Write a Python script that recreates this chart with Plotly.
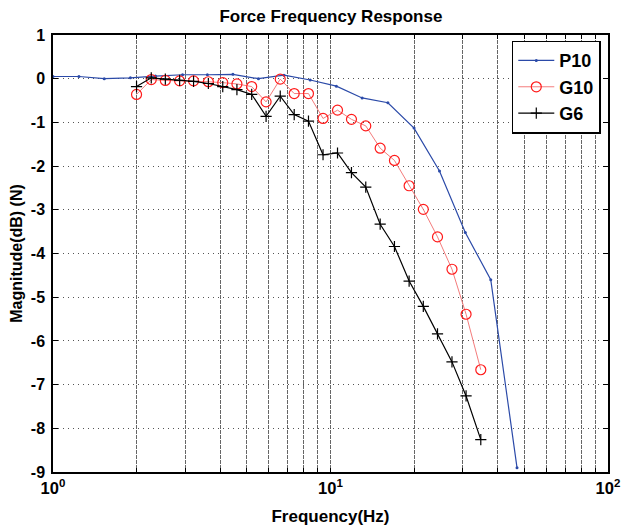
import plotly.graph_objects as go

# P10 response
p10_freq = [1.0, 1.24, 1.53, 1.9, 2.34, 2.93, 3.6, 4.45, 5.5, 6.8, 8.45, 10.5, 13.0, 16.1, 20.0, 24.7, 30.6, 37.8, 47.0]
p10_mag = [0.05, 0.05, 0.0, 0.02, 0.06, 0.09, 0.09, 0.1, 0.0, 0.08, -0.03, -0.17, -0.44, -0.55, -1.13, -2.11, -3.52, -4.6, -8.9]

# G10 response
g10_freq = [2.0, 2.26, 2.54, 2.86, 3.21, 3.63, 4.09, 4.6, 5.2, 5.86, 6.59, 7.4, 8.33, 9.4, 10.6, 11.9, 13.4, 15.1, 17.0, 19.2, 21.6, 24.3, 27.4, 30.8, 34.8]
g10_mag = [-0.36, -0.02, -0.04, -0.05, -0.05, -0.07, -0.09, -0.12, -0.18, -0.53, -0.01, -0.34, -0.34, -0.91, -0.72, -0.93, -1.08, -1.59, -1.87, -2.45, -2.99, -3.62, -4.36, -5.39, -6.66]

# G6 response
g6_freq = [2.0, 2.26, 2.54, 2.86, 3.21, 3.63, 4.09, 4.6, 5.2, 5.86, 6.59, 7.4, 8.33, 9.4, 10.6, 11.9, 13.4, 15.1, 17.0, 19.2, 21.6, 24.3, 27.4, 30.8, 34.8]
g6_mag = [-0.18, 0.02, -0.01, -0.04, -0.06, -0.11, -0.18, -0.25, -0.36, -0.86, -0.40, -0.82, -0.97, -1.74, -1.70, -2.15, -2.48, -3.33, -3.84, -4.63, -5.21, -5.84, -6.48, -7.26, -8.26]

x_tickvals = [1, 2, 3, 4, 5, 6, 7, 8, 9, 10, 20, 30, 40, 50, 60, 70, 80, 90, 100]
x_ticktext = ['10<sup>0</sup>', '', '', '', '', '', '', '', '', '10<sup>1</sup>',
              '', '', '', '', '', '', '', '', '10<sup>2</sup>']
y_tickvals = [1, 0, -1, -2, -3, -4, -5, -6, -7, -8, -9]
y_ticktext = ['1', '0', '-1', '-2', '-3', '-4', '-5', '-6', '-7', '-8', '-9']

font_dict = dict(family='Liberation Sans, Arial', color='black')

fig = go.Figure()
fig.add_trace(go.Scatter(
    x=p10_freq, y=p10_mag, name='P10', mode='lines+markers',
    line=dict(color='#2B4AA8', width=1.2),
    marker=dict(symbol='circle', size=3, color='#2B4AA8')))
fig.add_trace(go.Scatter(
    x=g10_freq, y=g10_mag, name='G10', mode='lines+markers',
    line=dict(color='#F47C7C', width=1),
    marker=dict(symbol='circle-open', size=10, color='#FF1A1A', line=dict(width=1.2))))
fig.add_trace(go.Scatter(
    x=g6_freq, y=g6_mag, name='G6', mode='lines+markers',
    line=dict(color='black', width=1.2),
    marker=dict(symbol='cross-thin-open', size=8, color='black', line=dict(width=1.2, color='black'))))

fig.update_layout(
    width=622, height=527,
    plot_bgcolor='white', paper_bgcolor='white',
    font=font_dict,
    margin=dict(l=53, r=14, t=35, b=55),
    title=dict(text='<b>Force Frequency Response</b>', x=0.532, xanchor='center',
               y=0.97, yanchor='middle', font=dict(size=17)),
    legend=dict(x=0.987, y=0.987, xanchor='right', yanchor='top',
                bgcolor='white', bordercolor='black', borderwidth=1.5,
                font=dict(size=18, family='Liberation Sans, Arial', color='black', weight='bold'),
                tracegroupgap=0, itemwidth=36),
    showlegend=True,
)

fig.update_xaxes(
    type='log', range=[0, 2], automargin=False,
    tickvals=x_tickvals, ticktext=x_ticktext,
    tickfont=dict(size=16.5, weight='bold'),
    title=dict(text='<b>Frequency(Hz)</b>', font=dict(size=17)),
    showgrid=True, gridcolor='#666666', griddash='4px,1px', gridwidth=1,
    showline=True, linecolor='black', linewidth=1.5, mirror='ticks',
    ticks='inside', ticklen=4, tickcolor='black', zeroline=False,
)
fig.update_yaxes(
    range=[-9, 1], automargin=True,
    tickvals=y_tickvals, ticktext=y_ticktext,
    tickfont=dict(size=16, weight='bold'), ticklabelstandoff=3,
    title=dict(text='<b>Magnitude(dB) (N)</b>', font=dict(size=16), standoff=4),
    showgrid=True, gridcolor='#555555', griddash='1px,4px', gridwidth=1,
    showline=True, linecolor='black', linewidth=1.5, mirror='ticks',
    ticks='inside', ticklen=5, tickcolor='black', zeroline=False,
)

# drop the page's default body margin so the figure sits at the window origin
fig.write_html('out.html', config={'displayModeBar': False},
               post_script="document.body.style.margin='0';")
